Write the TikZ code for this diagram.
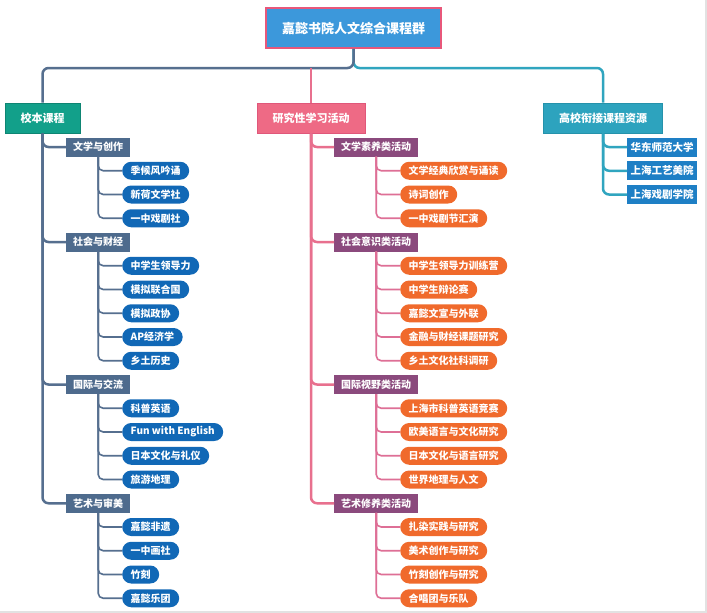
\documentclass[tikz,border=0pt]{standalone}
\usepackage{fontspec}
\setmainfont{Noto Sans CJK SC}
\definecolor{rootBlue}{HTML}{3C98DB}
\definecolor{rootEdge}{HTML}{E8577A}
\definecolor{xiaobenTeal}{HTML}{12A08A}
\definecolor{xiaobenEdge}{HTML}{0E8573}
\definecolor{yanjiuPink}{HTML}{EE6A85}
\definecolor{yanjiuEdge}{HTML}{E0577A}
\definecolor{gaoxiaoTeal}{HTML}{2DA3BE}
\definecolor{gaoxiaoEdge}{HTML}{2592AB}
\definecolor{slateBox}{HTML}{4E6B8D}
\definecolor{plumBox}{HTML}{8B4A7D}
\definecolor{pillBlue}{HTML}{1168B6}
\definecolor{pillOrange}{HTML}{F06A2C}
\definecolor{rightBlue}{HTML}{1E7FC5}
\definecolor{lineSlate}{HTML}{566F8F}
\definecolor{linePink}{HTML}{E8708E}
\definecolor{subPink}{HTML}{DE6F96}
\definecolor{lineTeal}{HTML}{30A5BF}
\definecolor{frameGray}{HTML}{E2E2E2}
\usepackage{tikz}

\tikzset{
    rootbox/.style={fill=rootBlue, draw=rootEdge, line width=1.8pt, text=white,
        font=\fontsize{13}{15}\selectfont\bfseries, inner xsep=16pt, minimum height=40pt},
    topbox/.style={line width=1pt, text=white, font=\fontsize{11}{13}\selectfont\bfseries,
        inner xsep=15.5pt, minimum height=30pt},
    groupL/.style={fill=slateBox, text=white, font=\fontsize{10}{12}\selectfont\bfseries,
        inner xsep=7pt, inner ysep=0pt, minimum height=19pt, anchor=west},
    groupM/.style={groupL, fill=plumBox},
    pillL/.style={fill=pillBlue, text=white, font=\fontsize{10}{12}\selectfont\bfseries,
        rounded corners=9pt, inner xsep=8.5pt, inner ysep=0pt, minimum height=18pt, anchor=west},
    pillM/.style={pillL, fill=pillOrange},
    uniboxR/.style={fill=rightBlue, text=white, font=\fontsize{10.5}{12}\selectfont\bfseries,
        inner xsep=3.5pt, inner ysep=0pt, minimum height=19pt, anchor=west},
    trunkL/.style={lineSlate, line width=2.5pt, rounded corners=6pt},
    trunkM/.style={linePink, line width=2.5pt, rounded corners=6pt},
    trunkR/.style={lineTeal, line width=2.5pt, rounded corners=6pt},
    subL/.style={lineSlate, line width=1.6pt, rounded corners=5pt},
    subM/.style={subPink, line width=1.6pt, rounded corners=5pt},
    subR/.style={lineTeal, line width=1.6pt, rounded corners=5pt}
}

\begin{document}
\begin{tikzpicture}[x=1pt, y=-1pt]
    \useasboundingbox (0,0) rectangle (707,613);
    \fill[white] (0,0) rectangle (707,613);
    \draw[frameGray, line width=1.5pt] (706,0) -- (706,612) -- (0,612);

    % root and the three branches
    \node[rootbox] (root) at (353.5,28) {嘉懿书院人文综合课程群};
    \node[topbox, fill=xiaobenTeal, draw=xiaobenEdge] (xiaoben) at (42.5,118) {校本课程};
    \node[topbox, fill=yanjiuPink, draw=yanjiuEdge] (yanjiu) at (311,118) {研究性学习活动};
    \node[topbox, fill=gaoxiaoTeal, draw=gaoxiaoEdge] (gaoxiao) at (603,118) {高校衔接课程资源};
    \coordinate (hub) at (353.5,68);
    \draw[trunkR] (root.south) -- (hub) -| (gaoxiao.north);
    \draw[trunkL] (root.south) -- (hub) -| (xiaoben.north);
    \draw[trunkM] (yanjiu.north |- hub) -- (yanjiu.north);

    % 校本课程
    \node[groupL] (wenxue) at (66,147) {文学与创作};
    \node[groupL] (shehui) at (66,242) {社会与财经};
    \node[groupL] (guoji) at (66,384.5) {国际与交流};
    \node[groupL] (yishu) at (66,503.25) {艺术与审美};
    \foreach \g in {wenxue, shehui, guoji, yishu}
        \draw[trunkL] (xiaoben.south) |- (\g.west);

    \foreach \txt [count=\i] in {季候风吟诵, 新荷文学社, 一中戏剧社} {
        \node[pillL] (wenxue-\i) at (122,{147+23.75*\i}) {\txt};
        \draw[subL] (wenxue.south) |- (wenxue-\i.west);
    }
    \foreach \txt [count=\i] in {中学生领导力, 模拟联合国, 模拟政协, AP经济学, 乡土历史} {
        \node[pillL] (shehui-\i) at (122,{242+23.75*\i}) {\txt};
        \draw[subL] (shehui.south) |- (shehui-\i.west);
    }
    \foreach \txt [count=\i] in {科普英语, Fun with English, 日本文化与礼仪, 旅游地理} {
        \node[pillL] (guoji-\i) at (122,{384.5+23.75*\i}) {\txt};
        \draw[subL] (guoji.south) |- (guoji-\i.west);
    }
    \foreach \txt [count=\i] in {嘉懿非遗, 一中画社, 竹刻, 嘉懿乐团} {
        \node[pillL] (yishu-\i) at (122,{503.25+23.75*\i}) {\txt};
        \draw[subL] (yishu.south) |- (yishu-\i.west);
    }

    % 研究性学习活动
    \node[groupM] (suyang) at (334,147) {文学素养类活动};
    \node[groupM] (yishi) at (334,242) {社会意识类活动};
    \node[groupM] (shiye) at (334,384.5) {国际视野类活动};
    \node[groupM] (xiuyang) at (334,503.25) {艺术修养类活动};
    \foreach \g in {suyang, yishi, shiye, xiuyang}
        \draw[trunkM] (yanjiu.south) |- (\g.west);

    \foreach \txt [count=\i] in {文学经典欣赏与诵读, 诗词创作, 一中戏剧节汇演} {
        \node[pillM] (suyang-\i) at (400,{147+23.75*\i}) {\txt};
        \draw[subM] (suyang.south) |- (suyang-\i.west);
    }
    \foreach \txt [count=\i] in {中学生领导力训练营, 中学生辩论赛, 嘉懿文宣与外联, 金融与财经课题研究, 乡土文化社科调研} {
        \node[pillM] (yishi-\i) at (400,{242+23.75*\i}) {\txt};
        \draw[subM] (yishi.south) |- (yishi-\i.west);
    }
    \foreach \txt [count=\i] in {上海市科普英语竞赛, 欧美语言与文化研究, 日本文化与语言研究, 世界地理与人文} {
        \node[pillM] (shiye-\i) at (400,{384.5+23.75*\i}) {\txt};
        \draw[subM] (shiye.south) |- (shiye-\i.west);
    }
    \foreach \txt [count=\i] in {扎染实践与研究, 美术创作与研究, 竹刻创作与研究, 合唱团与乐队} {
        \node[pillM] (xiuyang-\i) at (400,{503.25+23.75*\i}) {\txt};
        \draw[subM] (xiuyang.south) |- (xiuyang-\i.west);
    }

    % 高校衔接课程资源
    \foreach \txt [count=\i] in {华东师范大学, 上海工艺美院, 上海戏剧学院} {
        \node[uniboxR] (daxue-\i) at (627,{123.25+23.75*\i}) {\txt};
        \draw[trunkR] (gaoxiao.south) |- (daxue-\i.west);
    }
\end{tikzpicture}
\end{document}
